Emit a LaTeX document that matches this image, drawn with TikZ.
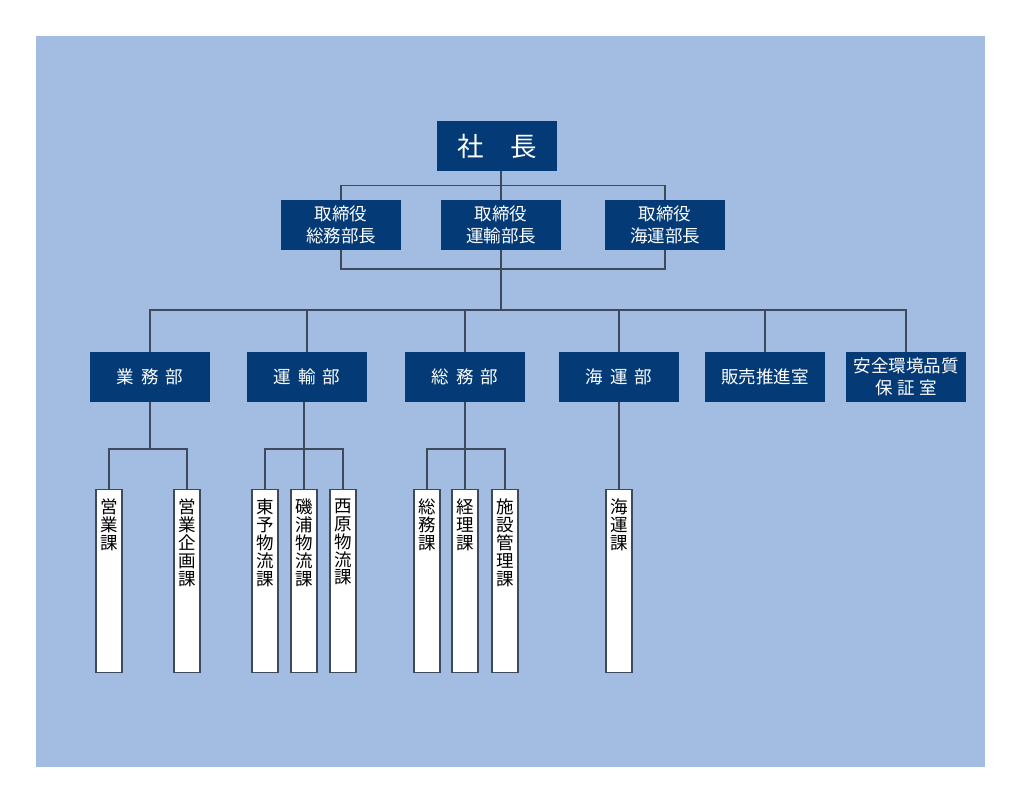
\documentclass[tikz,border=0pt]{standalone}
\usepackage{fontspec}
\setmainfont{Noto Sans CJK JP}
\usetikzlibrary{calc}
\definecolor{bgblue}{HTML}{A3BDE2}
\definecolor{boxblue}{HTML}{043A75}
\definecolor{linegray}{HTML}{3E4A5C}
\newcommand{\kgap}{\hspace{0.4em}}
\newcommand{\ka}[3]{\node[kabox](#1) at (#2,489) {}; \node[katext](#1t) at (#1.north) {#3};}

\begin{document}
\begin{tikzpicture}[x=1pt,y=-1pt,
	topbox/.style={fill=boxblue,text=white,minimum width=120pt,minimum height=50pt,inner sep=0pt,align=center,font=\fontsize{17.5}{22}\selectfont},
	kabox/.style={draw=linegray,fill=white,line width=1.2pt,minimum width=26pt,minimum height=183pt,anchor=north,inner sep=0pt},
	katext/.style={anchor=north,yshift=-10pt,inner sep=0pt,align=center,font=\fontsize{17.5}{17.8}\selectfont},
	link/.style={draw=linegray,line width=1.2pt}]
			\useasboundingbox (0,0) rectangle (1020,803);
			\fill[bgblue] (36,36) rectangle (985,767);
			
			\node[topbox,font=\fontsize{26.5}{30}\selectfont](pres) at (497,146) {社\hspace{1em}長};
			\node[topbox](dsomu) at (341,225) {取締役\\総務部長};
			\node[topbox](dunyu) at (501,225) {取締役\\運輸部長};
			\node[topbox](dkaiun) at (665,225) {取締役\\海運部長};
			
			\node[topbox](gyomu) at (150,377) {業\kgap 務\kgap 部};
			\node[topbox](unyu) at (307,377) {運\kgap 輸\kgap 部};
			\node[topbox](somu) at (465,377) {総\kgap 務\kgap 部};
			\node[topbox](kaiun) at (619,377) {海\kgap 運\kgap 部};
			\node[topbox](hanbai) at (765,377) {販売推進室};
			\node[topbox](anzen) at (906,377) {安全環境品質\\保\hspace{0.25em}証\hspace{0.25em}室};
			
			\ka{eigyo}{109}{営\\業\\課}
			\ka{kikaku}{187}{営\\業\\企\\画\\課}
			\ka{toyo}{265}{東\\予\\物\\流\\課}
			\ka{isoura}{304}{磯\\浦\\物\\流\\課}
			\ka{nishi}{343}{西\\原\\物\\流\\課}
			\ka{somuka}{427}{総\\務\\課}
			\ka{keiri}{465}{経\\理\\課}
			\ka{shisetsu}{505}{施\\設\\管\\理\\課}
			\ka{kaiunka}{619}{海\\運\\課}
			
			% board
			\coordinate (upbus) at ($(pres.south)!.5!(dunyu.north)$);
			\coordinate (lowbus) at (501,269);
			\coordinate (bus) at (501,310);
			\draw[link] (dsomu.north) |- (upbus) -| (dkaiun.north);
			\draw[link] (pres.south -| dunyu.north) -- (dunyu.north);
			\draw[link] (dsomu.south) |- (lowbus) -| (dkaiun.south);
			\draw[link] (dunyu.south) -- (bus);
			
			% departments
			\draw[link] (gyomu.north) |- (bus) -| (anzen.north);
			\foreach \d in {unyu,somu,kaiun,hanbai}
				\draw[link] (\d.north) -- (\d.north |- bus);
			
			% sections
			\draw[link] (eigyo.north) |- (gyomu.south |- 0,449) -| (kikaku.north);
			\draw[link] (gyomu.south) -- (gyomu.south |- 0,449);
			\draw[link] (toyo.north) |- (isoura.north |- 0,449) -| (nishi.north);
			\draw[link] (unyu.south -| isoura.north) -- (isoura.north);
			\draw[link] (somuka.north) |- (keiri.north |- 0,449) -| (shisetsu.north);
			\draw[link] (somu.south -| keiri.north) -- (keiri.north);
			\draw[link] (kaiun.south) -- (kaiunka.north);
		\end{tikzpicture}
\end{document}
